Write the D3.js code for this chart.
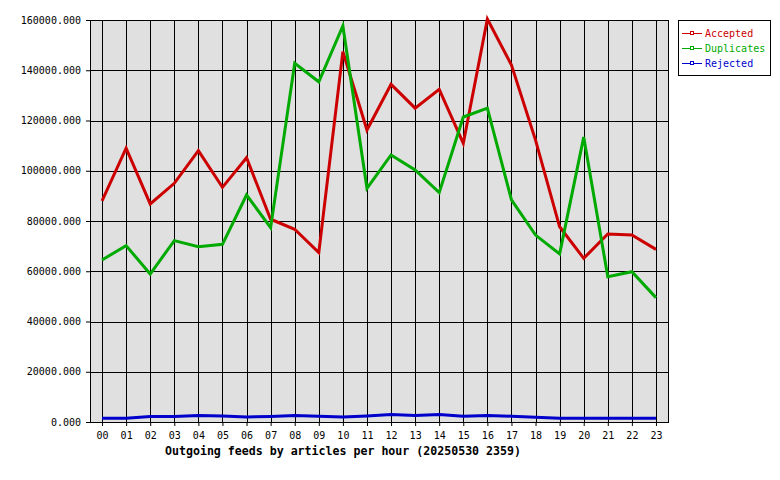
<!DOCTYPE html>
<html>
<head>
<meta charset="utf-8">
<script src="https://cdn.jsdelivr.net/npm/d3@7"></script>
<style>
  body { margin: 0; background: #fff; }
  text { font-family: "DejaVu Sans Mono", "Liberation Mono", monospace; }
</style>
</head>
<body>
<div id="chart"></div>
<script>
// hours along the bottom
const hours = ["00","01","02","03","04","05","06","07","08","09","10","11",
               "12","13","14","15","16","17","18","19","20","21","22","23"];
// articles per hour
const accepted = [88000,109000,86800,95000,108000,93400,105200,80700,76700,67400,147400,116200,
                  134400,124900,132400,110900,160400,142100,112200,77700,65150,74800,74400,68700];
const duplicates = [64500,70200,58900,72200,69800,70700,90350,77350,142800,135400,157600,93000,
                    106300,100300,91300,121400,124900,88400,74400,66900,113400,57800,59800,49500];
const rejected = [1500,1500,2200,2200,2600,2400,2000,2200,2600,2300,2000,2400,
                  3000,2600,3000,2300,2600,2300,1900,1500,1500,1500,1500,1500];
const yTicks = [0,20000,40000,60000,80000,100000,120000,140000,160000];
const seriesNames = ["Accepted","Duplicates","Rejected"];
const seriesColors = ["#cc0000","#00aa00","#0000cc"];
const title = "Outgoing feeds by articles per hour (20250530 2359)";

const W = 780, H = 480;
const m = {top: 20, right: 112, bottom: 58, left: 90};
const iw = W - m.left - m.right, ih = H - m.top - m.bottom;

const svg = d3.select("#chart").append("svg")
  .attr("width", W).attr("height", H);

const g = svg.append("g").attr("transform", `translate(${m.left},${m.top})`);

let x = d3.scalePoint().domain(hours).range([0, iw]).padding(0.5);
let y = d3.scaleLinear().domain([0, 160000]).range([ih, 0]);

g.append("rect").attr("width", iw).attr("height", ih).attr("fill", "#e0e0e0");

// grid
g.append("g").selectAll("line.v").data(hours).join("line")
  .attr("x1", d => Math.round(x(d)) + 0.5).attr("x2", d => Math.round(x(d)) + 0.5)
  .attr("y1", 0).attr("y2", ih).attr("stroke", "#000");
g.append("g").selectAll("line.h").data(yTicks).join("line")
  .attr("x1", 0).attr("x2", iw)
  .attr("y1", d => Math.round(y(d)) + 0.5).attr("y2", d => Math.round(y(d)) + 0.5)
  .attr("stroke", "#000");

// axes
const yAxis = g.append("g").call(d3.axisLeft(y).tickValues(yTicks).tickSize(4).tickPadding(5)
  .tickFormat(d => d3.format(".3f")(d)));
const xAxis = g.append("g").attr("transform", `translate(0,${ih})`)
  .call(d3.axisBottom(x).tickSize(4).tickPadding(6));
[yAxis, xAxis].forEach(a => {
  a.select(".domain").remove();
  a.selectAll("line").attr("stroke", "#000");
  a.selectAll("text").attr("font-size", 10).attr("fill", "#000")
    .style("font-family", "DejaVu Sans Mono, monospace");
});

// frame
g.append("rect").attr("x", 0.5).attr("y", 0.5).attr("width", iw).attr("height", ih)
  .attr("fill", "none").attr("stroke", "#000");

// lines
const line = d3.line().x((d, i) => x(hours[i])).y(d => y(d));
[accepted, duplicates, rejected].forEach((s, i) => {
  g.append("path").datum(s).attr("d", line)
    .attr("fill", "none").attr("stroke", seriesColors[i]).attr("stroke-width", 3)
    .attr("stroke-linejoin", "miter");
});

// title
svg.append("text").attr("x", m.left + iw / 2 - 36).attr("y", 455)
  .attr("text-anchor", "middle").attr("font-size", 11.6).attr("font-weight", "bold")
  .text(title);

// legend
const lg = svg.append("g").attr("transform", "translate(678,20)");
lg.append("rect").attr("x", 0.5).attr("y", 0.5).attr("width", 92).attr("height", 55)
  .attr("fill", "#fff").attr("stroke", "#000");
seriesNames.forEach((n, i) => {
  const yy = 13 + i * 15;
  lg.append("line").attr("x1", 4).attr("x2", 24).attr("y1", yy + 0.5).attr("y2", yy + 0.5)
    .attr("stroke", seriesColors[i]);
  lg.append("rect").attr("x", 12.5).attr("y", yy - 1.5).attr("width", 3).attr("height", 3)
    .attr("fill", "#fff").attr("stroke", seriesColors[i]);
  lg.append("text").attr("x", 27).attr("y", yy + 4).attr("font-size", 10)
    .attr("fill", seriesColors[i]).text(n);
});
</script>
</body>
</html>
